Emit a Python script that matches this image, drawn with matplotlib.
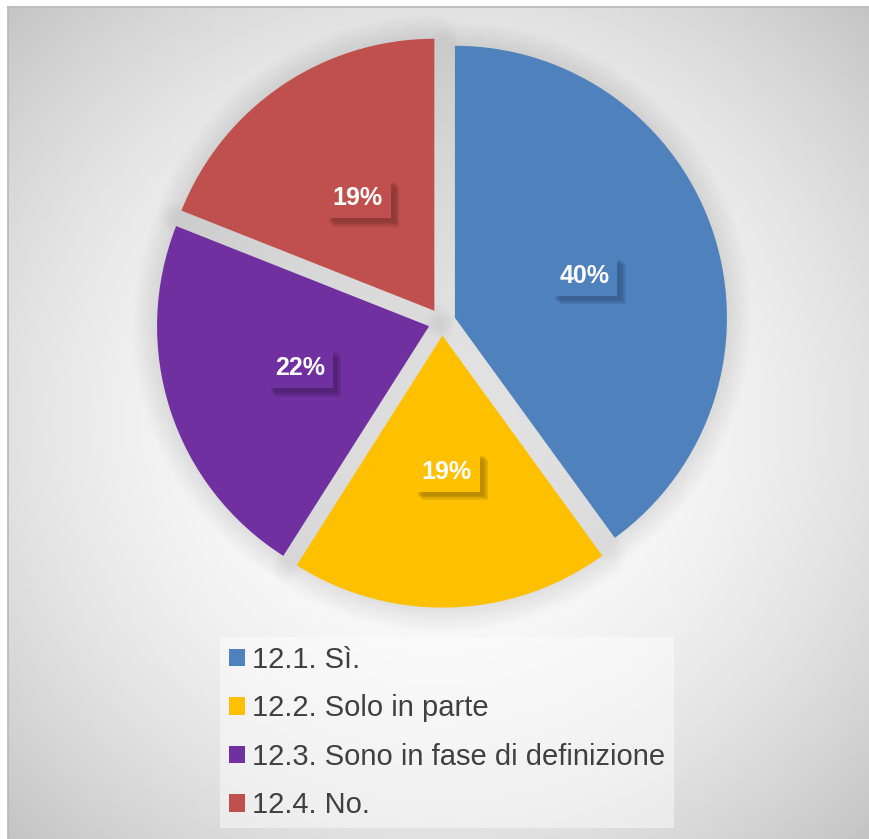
import numpy as np
import matplotlib.pyplot as plt
from matplotlib.patches import Wedge, Patch
import matplotlib.patheffects as pe

# --- data ---
categories = ["12.1. Sì.", "12.2. Solo in parte",
              "12.3. Sono in fase di definizione", "12.4. No."]
values = [40, 19, 22, 19]
colors = ["#4F81BD", "#FFC000", "#7030A0", "#C0504D"]
shadow_colors = ["#2b4a70", "#8a6800", "#3d1a58", "#6e2c2a"]

W, H = 869, 839
fig = plt.figure(figsize=(W / 100, H / 100), dpi=100)
fig.patch.set_facecolor("white")

# --- background: radial grey gradient inside a thin frame ---
bg = fig.add_axes([0, 0, 1, 1])
bg.set_xlim(0, W)
bg.set_ylim(H, 0)
bg.axis("off")
yy, xx = np.mgrid[0:H, 0:W]
dx = (xx - 438) / 434.0
dy = (yy - 420) / 420.0
d2 = (dx ** 2 + dy ** 2) / 2.0
grad = np.clip(255 - 60 * d2, 0, 255) / 255.0
img = np.dstack([grad, grad, grad])
img[:7, :, :] = 1.0
img[:, :8, :] = 1.0
bg.imshow(img, extent=(0, W, H, 0), interpolation="bilinear", zorder=0)
bg.plot([8, W], [7, 7], color="#b8b8b8", lw=1.2, zorder=1)
bg.plot([8, 8], [7, H], color="#b8b8b8", lw=1.2, zorder=1)

# --- pie ---
cx, cy, r = 442, 322, 272
ax = fig.add_axes([(cx - r) / W, 1 - (cy + r) / H, 2 * r / W, 2 * r / H])
ax.axis("off")
ax.patch.set_alpha(0)

wedges, texts, autotexts = ax.pie(
    values, colors=colors, startangle=90, counterclock=False,
    explode=[0.05] * len(values), radius=1.0, autopct="%.0f%%",
    pctdistance=0.5,
    textprops=dict(color="white", fontsize=18, fontweight="bold",
                   family="Liberation Sans"),
    wedgeprops=dict(linewidth=0), normalize=True)
ax.set_xlim(-1, 1)
ax.set_ylim(-1, 1)
ax.set_aspect("equal")
for w in wedges:
    w.set_clip_on(False)
    w.set_zorder(3)

# soft shadow around the slices
for w in wedges:
    for lw in range(2, 36, 3):
        sh = Wedge(w.center, w.r, w.theta1, w.theta2, facecolor="none",
                   edgecolor="black", lw=lw, alpha=0.006, zorder=2,
                   joinstyle="round", clip_on=False)
        ax.add_patch(sh)

for t, c, sc in zip(autotexts, colors, shadow_colors):
    t.set_zorder(5)
    t.set_bbox(dict(boxstyle="square,pad=0.32", facecolor=c, edgecolor="none"))
    effects = [pe.SimplePatchShadow(offset=(o, -o), shadow_rgbFace=sc, alpha=0.18)
               for o in (6, 5, 4, 3)]
    t.get_bbox_patch().set_path_effects(effects + [pe.Normal()])

# --- legend ---
handles = [Patch(facecolor=c, edgecolor="none") for c in colors]
leg = fig.legend(handles, categories, loc="lower left",
                 bbox_to_anchor=(220 / W, 1 - 828 / H),
                 prop=dict(family="Liberation Sans", size=21),
                 labelcolor="#404040", frameon=True, fancybox=False,
                 handlelength=0.55, handleheight=0.55, handletextpad=0.25,
                 labelspacing=0.7, borderpad=0.3, borderaxespad=0)
leg.get_frame().set_facecolor("white")
leg.get_frame().set_alpha(0.45)
leg.get_frame().set_edgecolor("none")

fig.savefig("out.png", dpi=100)
